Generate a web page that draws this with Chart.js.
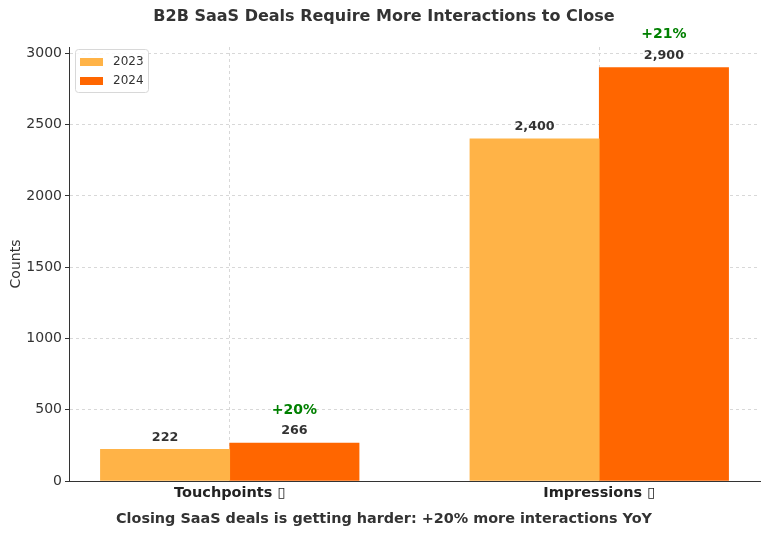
<!DOCTYPE html>
<html lang="en">
<head>
  <meta charset="UTF-8">
  <title>B2B SaaS Deals</title>
  <script src="https://cdn.jsdelivr.net/npm/chart.js"></script>
  <style>
    body { margin: 0; background: white; }
    #wrap { width: 768px; height: 535px; }
  </style>
</head>
<body>
  <div id="wrap"><canvas id="chart"></canvas></div>

  <script>
    const categories = ['Touchpoints \u25AF', 'Impressions \u25AF'];
    const years = ['2023', '2024'];
    const values2023 = [222, 2400];
    const values2024 = [266, 2900];
    const changeLabels = ['+20%', '+21%'];
    const yTicks = [0, 500, 1000, 1500, 2000, 2500, 3000];

    const colors = ['#FFB347', '#FF6600'];
    const barOffset = 0.175;
    const font = 'DejaVu Sans, sans-serif';

    function points(vals, shift) {
      return vals.map((v, i) => ({ x: i + shift, y: v }));
    }

    // Titel, Achsenbeschriftung, Legende und Werte zeichnen
    const textPlugin = {
      id: 'texts',
      afterDraw(chart) {
        const ctx = chart.ctx;
        const area = chart.chartArea;
        ctx.save();
        ctx.textAlign = 'center';
        ctx.textBaseline = 'middle';

        ctx.fillStyle = '#333';
        ctx.font = 'bold 16px ' + font;
        ctx.fillText('B2B SaaS Deals Require More Interactions to Close', 384, 17);

        ctx.font = 'bold 14.4px ' + font;
        ctx.fillText('Closing SaaS deals is getting harder: +20% more interactions YoY', 384, 519);

        ctx.save();
        ctx.translate(16, (area.top + area.bottom) / 2);
        ctx.rotate(-Math.PI / 2);
        ctx.font = '14px ' + font;
        ctx.fillText('Counts', 0, 0);
        ctx.restore();

        // Werte über den Balken
        chart.data.datasets.forEach((ds, di) => {
          const meta = chart.getDatasetMeta(di);
          meta.data.forEach((bar, i) => {
            ctx.fillStyle = '#333';
            ctx.font = 'bold 12.7px ' + font;
            ctx.fillText(ds.data[i].y.toLocaleString('en-US'), bar.x, bar.y - 12);
            if (di === 1) {
              ctx.fillStyle = '#008000';
              ctx.font = 'bold 14px ' + font;
              ctx.fillText(changeLabels[i], bar.x, bar.y - 33);
            }
          });
        });

        // Legende
        const lx = area.left + 6, ly = area.top + 2;
        ctx.fillStyle = 'rgba(255,255,255,0.85)';
        ctx.strokeStyle = '#d8d8d8';
        ctx.lineWidth = 1;
        ctx.beginPath();
        ctx.roundRect(lx + 0.5, ly + 0.5, 73, 43, 3);
        ctx.fill();
        ctx.stroke();
        ctx.textAlign = 'left';
        ctx.font = '12px ' + font;
        years.forEach((y, i) => {
          const cy = ly + 13 + i * 19;
          ctx.fillStyle = colors[i];
          ctx.fillRect(lx + 5, cy - 4, 23, 8);
          ctx.fillStyle = '#333';
          ctx.fillText(y, lx + 38, cy);
        });
        ctx.restore();
      }
    };

    new Chart(document.getElementById('chart'), {
      type: 'bar',
      data: {
        datasets: [
          { label: years[0], data: points(values2023, -barOffset), backgroundColor: colors[0] },
          { label: years[1], data: points(values2024, barOffset), backgroundColor: colors[1] }
        ]
      },
      options: {
        responsive: true,
        maintainAspectRatio: false,
        animation: false,
        layout: { padding: { top: 47, right: 8, left: 0, bottom: 0 } },
        datasets: { bar: { grouped: false, barPercentage: 1, categoryPercentage: 1 } },
        plugins: { legend: { display: false }, tooltip: { enabled: false } },
        scales: {
          x: {
            type: 'linear',
            min: -0.435,
            max: 1.435,
            offset: false,
            afterBuildTicks: scale => { scale.ticks = categories.map((c, i) => ({ value: i })); },
            afterFit: scale => { scale.height = 54; },
            ticks: {
              callback: v => categories[v],
              color: '#222',
              font: { family: font, size: 14.5, weight: 'bold' },
              padding: 4,
              maxRotation: 0
            },
            grid: { color: '#d8d8d8', offset: false, drawTicks: false },
            border: { color: '#333', width: 1, dash: [3, 3] }
          },
          y: {
            min: 0,
            max: 3045,
            afterBuildTicks: scale => { scale.ticks = yTicks.map(v => ({ value: v })); },
            afterFit: scale => { scale.width = 69; },
            ticks: {
              callback: v => String(v),
              color: '#333',
              font: { family: font, size: 14 },
              padding: 3
            },
            grid: {
              color: '#d8d8d8',
              tickLength: 4,
              tickColor: '#333',
              tickBorderDash: []
            },
            border: { color: '#333', width: 1, dash: [3, 3] }
          }
        }
      },
      plugins: [textPlugin]
    });
  </script>
</body>
</html>
